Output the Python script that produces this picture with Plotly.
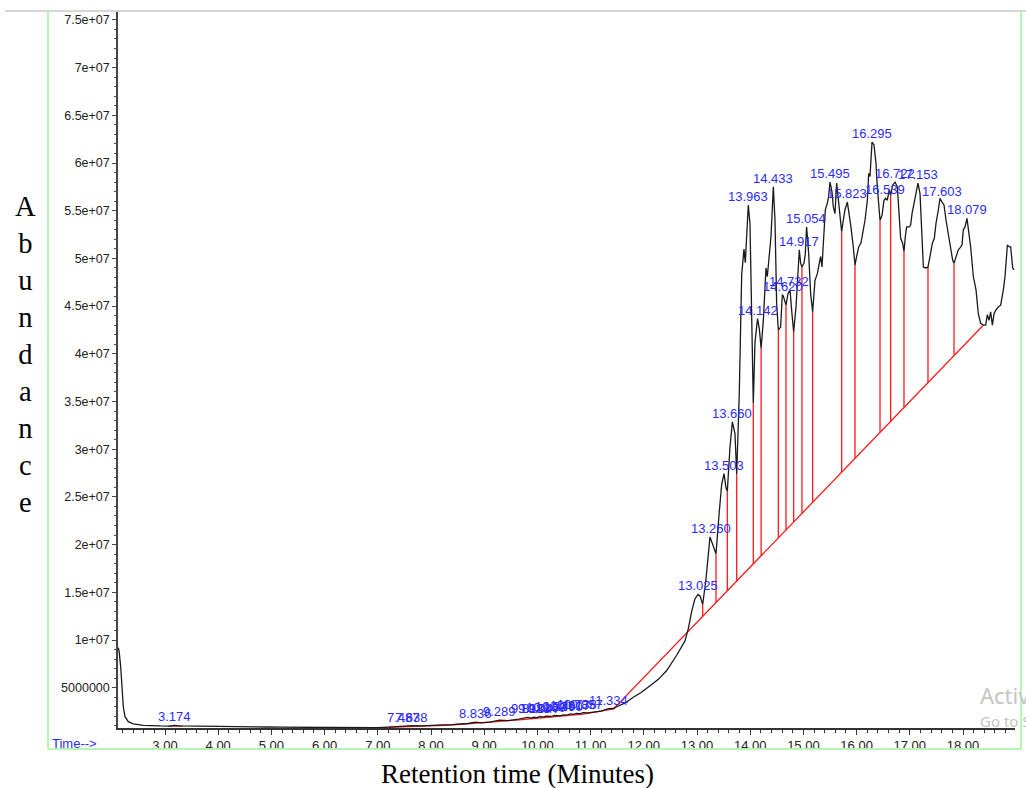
import numpy as np
import plotly.graph_objects as go

# ---------------- data ----------------
time_min = [
    2.122, 2.140, 2.167, 2.192, 2.216, 2.248, 2.310, 2.404, 2.592, 2.906,
    3.100, 3.174, 3.260, 3.658, 4.000, 4.278, 4.600, 4.912, 5.200, 5.538,
    5.850, 6.158, 6.500, 7.000, 7.200, 7.487, 7.560, 7.638, 7.800, 8.000,
    8.400, 8.700, 8.836, 8.950, 9.100, 9.289, 9.450, 9.650, 9.818, 9.880,
    9.938, 10.000, 10.047, 10.110, 10.160, 10.250, 10.327, 10.420, 10.490, 10.560,
    10.617, 10.680, 10.738, 10.800, 10.857, 10.950, 11.100, 11.200, 11.334, 11.430,
    11.490, 11.650, 11.803, 11.950, 12.117, 12.280, 12.430, 12.618, 12.774, 12.837,
    12.900, 12.960, 13.020, 13.060, 13.107, 13.169, 13.244, 13.306, 13.357, 13.419,
    13.464, 13.508, 13.545, 13.570, 13.620, 13.665, 13.714, 13.746, 13.795, 13.840,
    13.883, 13.908, 13.934, 13.964, 13.996, 14.028, 14.058, 14.090, 14.138, 14.171,
    14.205, 14.247, 14.278, 14.297, 14.322, 14.359, 14.391, 14.435, 14.466, 14.497,
    14.529, 14.572, 14.604, 14.625, 14.673, 14.710, 14.748, 14.785, 14.817, 14.861,
    14.898, 14.923, 14.948, 14.973, 15.011, 15.036, 15.060, 15.099, 15.136, 15.174,
    15.218, 15.262, 15.299, 15.324, 15.349, 15.387, 15.412, 15.450, 15.475, 15.500,
    15.537, 15.562, 15.594, 15.625, 15.650, 15.688, 15.719, 15.750, 15.782, 15.826,
    15.857, 15.894, 15.938, 15.970, 16.001, 16.039, 16.082, 16.126, 16.158, 16.202,
    16.227, 16.252, 16.290, 16.327, 16.364, 16.389, 16.415, 16.440, 16.477, 16.515,
    16.545, 16.577, 16.615, 16.640, 16.678, 16.722, 16.766, 16.803, 16.828, 16.866,
    16.891, 16.916, 16.941, 16.991, 17.016, 17.042, 17.079, 17.117, 17.154, 17.192,
    17.223, 17.255, 17.305, 17.342, 17.380, 17.424, 17.461, 17.493, 17.537, 17.568,
    17.605, 17.643, 17.681, 17.724, 17.768, 17.806, 17.831, 17.869, 17.912, 17.944,
    17.981, 18.006, 18.038, 18.075, 18.100, 18.144, 18.194, 18.245, 18.288, 18.332,
    18.382, 18.426, 18.458, 18.489, 18.520, 18.552, 18.583, 18.620, 18.664, 18.708,
    18.758, 18.790, 18.834, 18.871, 18.896, 18.934, 18.959,
]
abundance_millions = [
    9.20, 8.70, 7.20, 5.10, 3.00, 1.96, 1.44, 1.20, 1.06, 0.99,
    0.98, 1.06, 0.99, 0.97, 0.96, 0.97, 0.95, 0.88, 0.86, 0.84,
    0.82, 0.80, 0.78, 0.80, 0.86, 0.99, 0.95, 1.03, 1.00, 1.03,
    1.13, 1.25, 1.40, 1.32, 1.40, 1.60, 1.55, 1.70, 1.88, 1.80,
    1.90, 1.86, 1.98, 1.92, 2.02, 1.98, 2.10, 2.05, 2.16, 2.12,
    2.25, 2.20, 2.30, 2.27, 2.38, 2.36, 2.48, 2.55, 2.80, 2.82,
    3.00, 3.40, 4.00, 4.50, 5.20, 5.90, 6.80, 8.40, 9.90, 11.20,
    13.00, 14.30, 14.78, 14.60, 13.72, 16.37, 20.81, 19.93, 19.04, 23.47,
    26.31, 27.44, 25.95, 25.60, 30.21, 32.87, 31.62, 27.37, 35.90, 48.30,
    50.97, 49.54, 52.56, 55.58, 53.63, 43.69, 34.82, 41.20, 43.69, 42.63,
    40.60, 43.50, 46.30, 49.00, 48.10, 50.50, 52.30, 57.50, 54.00, 45.30,
    42.50, 42.80, 46.20, 46.00, 45.10, 46.30, 46.70, 44.20, 42.30, 44.90,
    48.10, 50.90, 49.50, 49.10, 49.50, 50.50, 53.30, 50.50, 46.30, 44.40,
    47.70, 48.40, 49.50, 50.20, 49.10, 53.00, 55.10, 55.80, 56.50, 58.00,
    57.00, 55.40, 54.70, 57.90, 56.50, 54.00, 52.80, 54.00, 55.10, 55.90,
    54.90, 53.30, 51.20, 49.30, 50.20, 51.20, 51.60, 53.00, 54.00, 56.10,
    58.90, 58.60, 62.20, 61.90, 60.00, 57.50, 55.10, 54.00, 54.50, 56.10,
    56.30, 56.10, 57.20, 56.60, 57.70, 58.00, 57.50, 54.40, 52.10, 51.60,
    50.70, 52.30, 53.30, 53.30, 53.50, 54.70, 55.80, 57.00, 57.90, 56.80,
    52.60, 49.10, 49.00, 49.10, 50.20, 51.60, 52.10, 53.70, 55.10, 56.30,
    55.90, 55.60, 54.00, 52.60, 50.90, 49.80, 49.50, 50.20, 50.90, 51.10,
    51.40, 53.00, 53.30, 54.20, 53.20, 51.20, 48.10, 46.70, 44.20, 43.20,
    43.00, 43.00, 44.10, 43.50, 44.40, 43.00, 44.20, 44.60, 44.90, 45.10,
    46.70, 48.10, 51.40, 51.20, 51.20, 49.00, 48.80,
]

# integration baselines (red)
baseline_time = [7.20, 8.36, 9.61, 10.86, 11.43, 18.382]
baseline_millions = [0.85, 1.09, 1.61, 2.24, 2.77, 43.0]
small_baseline_time = [3.06, 3.33]
small_baseline_millions = [0.98, 0.98]

# peak-boundary drop lines (red verticals)
drop_times = [13.107, 13.357, 13.570, 13.746, 14.058, 14.205, 14.529, 14.673,
              14.817, 14.973, 15.174, 15.719, 15.970, 16.440, 16.640, 16.891,
              17.342, 17.831]

# labelled peaks (retention times)
peak_times = [3.174, 7.487, 7.638, 8.836, 9.289, 9.818, 9.938, 10.047, 10.160,
              10.327, 10.490, 10.617, 10.738, 10.857, 11.334, 13.025, 13.260,
              13.503, 13.660, 13.963, 14.142, 14.433, 14.620, 14.732, 14.917,
              15.054, 15.495, 15.823, 16.295, 16.539, 16.722, 17.153, 17.603,
              18.079]

y_tick_values = [5e6, 1e7, 1.5e7, 2e7, 2.5e7, 3e7, 3.5e7, 4e7, 4.5e7, 5e7,
                 5.5e7, 6e7, 6.5e7, 7e7, 7.5e7]
y_tick_labels = ["5000000", "1e+07", "1.5e+07", "2e+07", "2.5e+07", "3e+07",
                 "3.5e+07", "4e+07", "4.5e+07", "5e+07", "5.5e+07", "6e+07",
                 "6.5e+07", "7e+07", "7.5e+07"]

x_title = "Retention time (Minutes)"
y_title = "Abundance"
# ---------------------------------------------------------------------------

t = np.array(time_min)
a = np.array(abundance_millions) * 1e6
bt = np.array(baseline_time)
ba = np.array(baseline_millions) * 1e6

RED = "#ff1a1a"
BLUE = "#2b2bff"
SANS = "Liberation Sans, Arial, sans-serif"
SERIF = "Liberation Serif, Times New Roman, serif"

fig = go.Figure()

# baselines
fig.add_trace(go.Scatter(x=bt, y=ba, mode="lines",
                         line=dict(color=RED, width=1.3), hoverinfo="skip"))
fig.add_trace(go.Scatter(x=small_baseline_time,
                         y=np.array(small_baseline_millions) * 1e6, mode="lines",
                         line=dict(color=RED, width=1.3), hoverinfo="skip"))

# drop lines
dx, dy = [], []
for dt in drop_times:
    dx += [dt, dt, None]
    dy += [float(np.interp(dt, bt, ba)), float(np.interp(dt, t, a)), None]
fig.add_trace(go.Scatter(x=dx, y=dy, mode="lines",
                         line=dict(color=RED, width=1.3), hoverinfo="skip"))

# chromatogram
fig.add_trace(go.Scatter(x=t, y=a, mode="lines",
                         line=dict(color="#1a1a1a", width=1.3)))

# peak labels
fine_t = np.linspace(t.min(), t.max(), 20000)
fine_a = np.interp(fine_t, t, a)
annotations = []
for pt in peak_times:
    win = (fine_t > pt - 0.02) & (fine_t < pt + 0.02)
    top = float(fine_a[win].max())
    annotations.append(dict(x=pt, y=top, xref="x", yref="y", text=f"{pt:.3f}",
                            showarrow=False, yanchor="bottom", xanchor="center",
                            yshift=-1, font=dict(family=SANS, size=13, color=BLUE)))

# figure geometry (pixels)
W, H = 1026, 788
L, R, T, B = 118, 1015, 12, 728
pw, ph = R - L, B - T


def px(xp):
    return (xp - L) / pw


def py(yp):
    return (B - yp) / ph


annotations.append(dict(x=px(50), y=py(743), xref="paper", yref="paper",
                        text="Time-->", showarrow=False, xanchor="left",
                        yanchor="middle",
                        font=dict(family=SANS, size=13, color=BLUE)))
annotations.append(dict(x=px(517), y=py(774), xref="paper", yref="paper",
                        text=x_title, showarrow=False, xanchor="center",
                        yanchor="middle",
                        font=dict(family=SERIF, size=27, color="#000000")))
annotations.append(dict(x=px(25), y=py(189), xref="paper", yref="paper",
                        text="<br>".join(list(y_title)), showarrow=False,
                        xanchor="center", yanchor="top", align="center",
                        font=dict(family=SERIF, size=28.5, color="#000000")))
annotations.append(dict(x=px(978), y=py(695), xref="paper", yref="paper",
                        text="Activate Windows", showarrow=False,
                        xanchor="left", yanchor="middle",
                        font=dict(family="Noto Sans, sans-serif", size=22,
                                  color="#c4c4c4")))
annotations.append(dict(x=px(978), y=py(721), xref="paper", yref="paper",
                        text="Go to Settings to activate Windows.",
                        showarrow=False, xanchor="left", yanchor="middle",
                        font=dict(family="Noto Sans, sans-serif", size=15,
                                  color="#c4c4c4")))

shapes = [
    # light-green frame
    dict(type="line", xref="paper", yref="paper", x0=px(48), x1=px(48),
         y0=py(12), y1=py(749), line=dict(color="#b6f5b6", width=2)),
    dict(type="line", xref="paper", yref="paper", x0=px(48), x1=px(1021),
         y0=py(749), y1=py(749), line=dict(color="#b6f5b6", width=2)),
    dict(type="line", xref="paper", yref="paper", x0=px(1021), x1=px(1021),
         y0=py(12), y1=py(749), line=dict(color="#b6f5b6", width=2)),
    # grey top rule
    dict(type="line", xref="paper", yref="paper", x0=px(5), x1=px(1026),
         y0=py(11), y1=py(11), line=dict(color="#d6d6d6", width=2)),
]

x_lo = (L - 5.4) / 53.2
x_hi = (R - 5.4) / 53.2
y_lo = (735.4 - B) / 9.54 * 1e6
y_hi = (735.4 - T) / 9.54 * 1e6

fig.update_layout(
    width=W, height=H,
    margin=dict(l=L, r=W - R, t=T, b=H - B, pad=0),
    paper_bgcolor="white", plot_bgcolor="white",
    showlegend=False,
    annotations=annotations,
    shapes=shapes,
    xaxis=dict(range=[x_lo, x_hi], showgrid=False, zeroline=False,
               showline=True, linecolor="#333333", linewidth=1.5,
               ticks="outside", ticklen=5, tickwidth=1, tickcolor="#333333",
               tick0=0, dtick=1, tickformat=".2f",
               tickfont=dict(family=SANS, size=13, color="#222222"),
               minor=dict(tick0=0, dtick=0.2, ticks="outside", ticklen=3,
                          tickcolor="#333333", showgrid=False)),
    yaxis=dict(range=[y_lo, y_hi], showgrid=False, zeroline=False,
               showline=True, linecolor="#444444", linewidth=1.5,
               ticks="outside", ticklen=4, tickwidth=1, tickcolor="#444444",
               tickmode="array", tickvals=y_tick_values, ticktext=y_tick_labels,
               tickfont=dict(family=SANS, size=12.5, color="#222222"),
               minor=dict(tick0=0, dtick=1e6, ticks="outside", ticklen=2,
                          tickcolor="#555555", showgrid=False)),
)

fig.write_html("out.html", config={"displayModeBar": False})
